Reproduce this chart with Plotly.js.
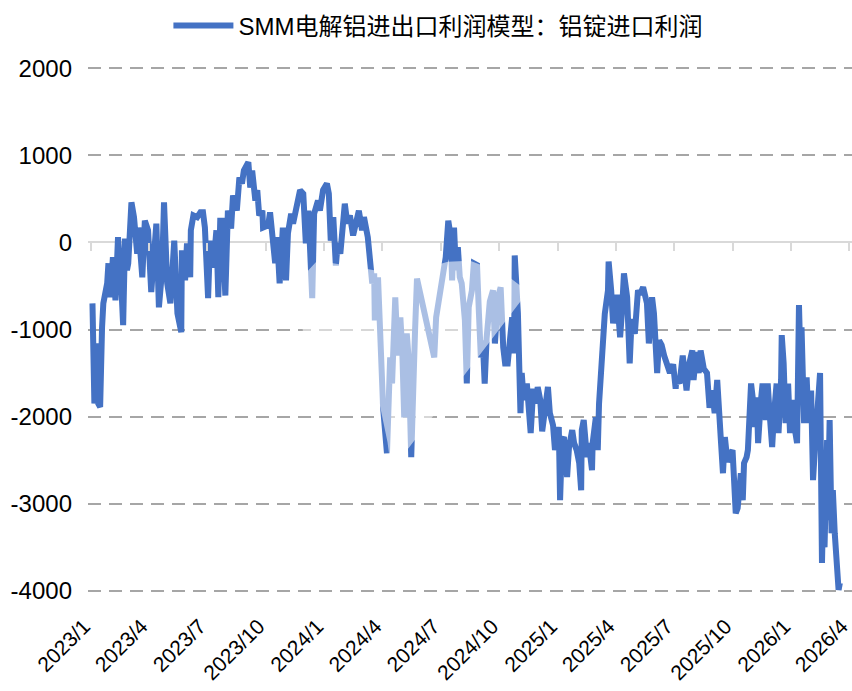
<!DOCTYPE html>
<html>
<head>
<meta charset="utf-8">
<script src="https://cdn.plot.ly/plotly-3.0.1.min.js"></script>
<style>html,body{margin:0;padding:0;background:#fff;}#chart{width:852px;height:691px;}</style>
</head>
<body>
<div id="chart"></div>
<script>
// ---- data ----
var seriesName = "SMM电解铝进出口利润模型：铝锭进口利润";
var dates = [
"2023-01-03","2023-01-04","2023-01-06","2023-01-09","2023-01-10","2023-01-12","2023-01-15","2023-01-18","2023-01-20","2023-01-26","2023-01-28","2023-01-31",
"2023-02-04","2023-02-08","2023-02-11","2023-02-12","2023-02-17","2023-02-20","2023-02-23","2023-02-26","2023-02-28",
"2023-03-05","2023-03-09","2023-03-14","2023-03-16","2023-03-22","2023-03-26","2023-03-31",
"2023-04-05","2023-04-08","2023-04-13","2023-04-17","2023-04-22","2023-04-25","2023-04-30",
"2023-05-05","2023-05-08","2023-05-11","2023-05-16","2023-05-22","2023-05-23","2023-05-28","2023-05-31",
"2023-06-05","2023-06-06","2023-06-10","2023-06-16","2023-06-21","2023-06-25","2023-06-28",
"2023-07-03","2023-07-06","2023-07-11","2023-07-16","2023-07-19","2023-07-22","2023-07-25","2023-07-30",
"2023-08-03","2023-08-08","2023-08-11","2023-08-17","2023-08-21","2023-08-25","2023-08-28",
"2023-09-04","2023-09-07","2023-09-10","2023-09-15","2023-09-18","2023-09-21","2023-09-26","2023-09-27",
"2023-10-05","2023-10-08","2023-10-11","2023-10-16","2023-10-19","2023-10-23","2023-10-28",
"2023-11-02","2023-11-05","2023-11-10","2023-11-13","2023-11-19","2023-11-24","2023-11-29",
"2023-12-03","2023-12-07","2023-12-11","2023-12-13","2023-12-16","2023-12-22","2023-12-25","2023-12-30",
"2024-01-05","2024-01-08","2024-01-11","2024-01-15","2024-01-19","2024-01-22","2024-01-26","2024-01-29",
"2024-02-02","2024-02-06","2024-02-10","2024-02-15","2024-02-21","2024-02-24","2024-02-29",
"2024-03-03","2024-03-09","2024-03-13","2024-03-16","2024-03-19","2024-03-20","2024-03-25","2024-03-30",
"2024-04-02","2024-04-08","2024-04-10","2024-04-13","2024-04-16","2024-04-21","2024-04-25","2024-04-29",
"2024-05-02","2024-05-05","2024-05-09","2024-05-12","2024-05-16","2024-05-19","2024-05-22","2024-05-25","2024-05-30",
"2024-06-02","2024-06-07","2024-06-11","2024-06-17","2024-06-21","2024-06-24","2024-06-28",
"2024-07-02","2024-07-05","2024-07-09","2024-07-13","2024-07-17","2024-07-19","2024-07-22","2024-07-25","2024-07-28","2024-07-31",
"2024-08-03","2024-08-08","2024-08-11","2024-08-14","2024-08-19","2024-08-22","2024-08-27","2024-08-30",
"2024-09-02","2024-09-05","2024-09-08","2024-09-11","2024-09-16","2024-09-21","2024-09-24","2024-09-29",
"2024-10-03","2024-10-07","2024-10-10","2024-10-14","2024-10-18","2024-10-21","2024-10-24","2024-10-25","2024-10-30",
"2024-11-01","2024-11-03","2024-11-05","2024-11-08","2024-11-13","2024-11-16","2024-11-19","2024-11-23","2024-11-27","2024-11-30",
"2024-12-04","2024-12-07","2024-12-11","2024-12-14","2024-12-16","2024-12-19","2024-12-21","2024-12-24","2024-12-27",
"2025-01-02","2025-01-04","2025-01-07","2025-01-10","2025-01-15","2025-01-18","2025-01-23","2025-01-26","2025-01-30",
"2025-02-03","2025-02-06","2025-02-07","2025-02-10","2025-02-15","2025-02-18","2025-02-23","2025-02-24",
"2025-03-01","2025-03-04","2025-03-06","2025-03-11","2025-03-12","2025-03-15","2025-03-20","2025-03-21","2025-03-25","2025-03-28",
"2025-04-03","2025-04-08","2025-04-11","2025-04-14","2025-04-19","2025-04-23","2025-04-26",
"2025-05-01","2025-05-06","2025-05-09","2025-05-14","2025-05-20","2025-05-23","2025-05-28","2025-05-31",
"2025-06-05","2025-06-08","2025-06-12","2025-06-16","2025-06-21","2025-06-25","2025-06-30",
"2025-07-04","2025-07-05","2025-07-10","2025-07-15","2025-07-21","2025-07-25","2025-07-30",
"2025-08-01","2025-08-05","2025-08-09","2025-08-12","2025-08-17","2025-08-22","2025-08-26","2025-08-30",
"2025-09-03","2025-09-07","2025-09-13","2025-09-16","2025-09-19","2025-09-23","2025-09-27",
"2025-10-01","2025-10-06","2025-10-09","2025-10-14","2025-10-17","2025-10-19","2025-10-23","2025-10-25","2025-10-30",
"2025-11-02","2025-11-05","2025-11-08","2025-11-10","2025-11-14","2025-11-17","2025-11-22","2025-11-25","2025-11-28",
"2025-12-02","2025-12-05","2025-12-09","2025-12-12","2025-12-16","2025-12-17","2025-12-20","2025-12-23","2025-12-27","2025-12-30",
"2026-01-02","2026-01-05","2026-01-10","2026-01-13","2026-01-16","2026-01-17","2026-01-21","2026-01-25","2026-01-28",
"2026-02-01","2026-02-04","2026-02-08","2026-02-11","2026-02-15","2026-02-18","2026-02-19","2026-02-22","2026-02-26","2026-02-27",
"2026-03-02","2026-03-05","2026-03-07","2026-03-10","2026-03-13","2026-03-16","2026-03-18"
];
var profit = [
-700,-1750,-1850,-1400,-1160,-1850,-1890,-975,-700,-470,-240,-630,
-170,-665,-290,60,-470,-950,45,-320,-240,
460,290,-130,170,-400,250,140,
-570,-290,215,-745,-320,460,-470,
-700,-355,20,-815,-1030,-90,-435,-10,
-400,140,310,290,345,345,170,
-640,20,-290,140,-630,250,250,-610,
365,160,540,365,745,675,825,
920,630,825,480,600,310,365,170,
195,345,170,-240,60,-470,170,
-435,105,330,215,480,600,560,
-10,365,-290,-640,330,480,365,600,
675,560,20,290,-265,-10,-130,140,
445,215,310,80,290,365,140,
290,60,-170,-470,-355,-895,-400,-1320,
-1900,-2420,-1780,-1320,-1620,-630,-1300,-860,
-1250,-2010,-1045,-1340,-2465,-1390,-1010,-415,-585,
-620,-860,-950,-1205,-1320,-860,-665,
-500,-290,-170,250,60,-435,170,-320,-55,-400,
-470,-895,-1620,-745,-550,-240,-260,-815,
-1320,-1125,-1620,-1100,-680,-550,-1160,-620,
-515,-1205,-1390,-1390,-1125,-860,-1275,-150,-815,
-1730,-1960,-1500,-1810,-1620,-1850,-2190,-1680,-1850,-1660,
-1810,-2170,-1900,-1660,-1660,-1960,-2010,-2100,-2385,
-2120,-2960,-2270,-2235,-2695,-2350,-2155,-2305,-2385,
-2535,-2845,-2155,-2040,-2465,-2305,-2615,-2305,
-2010,-2385,-1850,-1250,-1125,-820,-550,-220,-550,-930,
-600,-1090,-780,-355,-630,-1390,-880,
-1050,-550,-600,-515,-700,-1160,-630,-815,
-1500,-1125,-1180,-1300,-1435,-1500,-1400,
-1680,-1550,-1620,-1300,-1700,-1400,-1240,
-1580,-1260,-1500,-1240,-1450,-1500,-1900,-1700,
-1960,-1580,-2300,-2650,-2235,-2520,-2440,
-2385,-3110,-3050,-2650,-2960,-2535,-2465,-2385,-1620,
-1810,-2120,-1780,-2305,-1850,-1620,-2040,-1620,-1960,
-2350,-1960,-1620,-2190,-1580,-1065,-1390,-2075,-1620,-2190,
-1810,-2075,-2305,-720,-1580,-975,-2075,-1550,-2075,
-1700,-2730,-2235,-1890,-1500,-3680,-3340,-3500,-2270,-3190,
-2040,-3340,-2845,-3340,-3800,-3990,-3910
];
var tickDates = ["2023-01-01","2023-04-01","2023-07-01","2023-10-01","2024-01-01","2024-04-01","2024-07-01","2024-10-01","2025-01-01","2025-04-01","2025-07-01","2025-10-01","2026-01-01","2026-04-01"];
var tickLabels = ["2023/1","2023/4","2023/7","2023/10","2024/1","2024/4","2024/7","2024/10","2025/1","2025/4","2025/7","2025/10","2026/1","2026/4"];
var yTicks = [-4000,-3000,-2000,-1000,0,1000,2000];
var yTickLabels = ["-4000","-3000","-2000","-1000","0","1000","2000"];

var FONT = "Liberation Sans, Arial, Helvetica, Noto Sans CJK SC, sans-serif";
var xRange = ["2022-12-27","2026-04-06"];
var yRange = [-4060, 2060];

var trace = {
  x: dates, y: profit, type: "scatter", mode: "lines", name: seriesName,
  line: {color: "#4472C4", width: 6}
};

var layout = {
  width: 852, height: 691,
  margin: {l: 88, r: 0, t: 63, b: 95, pad: 0},
  paper_bgcolor: "#ffffff", plot_bgcolor: "#ffffff",
  font: {family: FONT, size: 24, color: "#000000"},
  showlegend: true,
  legend: {orientation: "h", x: 0.458, xanchor: "center", y: 1.112, yanchor: "top",
           font: {family: FONT, size: 24, color: "#000000"}, itemwidth: 60, bgcolor: "rgba(0,0,0,0)"},
  xaxis: {
    type: "date", range: xRange, tickmode: "array", tickvals: tickDates, ticktext: tickLabels,
    tickangle: -45, showgrid: false, zeroline: false, showline: false, ticks: "",
    ticklabelstandoff: 13, ticklabelshift: -7, ticklabeloverflow: "allow",
    tickfont: {family: FONT, size: 21, color: "#000000"}, automargin: false, fixedrange: true
  },
  xaxis2: {
    type: "date", range: xRange, overlaying: "x", anchor: "free", position: 0.6634, side: "bottom",
    tickmode: "array", tickvals: tickDates, showticklabels: false, showgrid: false, zeroline: false,
    showline: false, ticks: "outside", ticklen: 8, tickwidth: 2, tickcolor: "#d9d9d9"
  },
  yaxis: {
    range: yRange, tickmode: "array", tickvals: yTicks, ticktext: yTickLabels,
    showgrid: true, gridcolor: "#a6a6a6", gridwidth: 2, griddash: "13px,8px",
    zeroline: true, zerolinecolor: "#d9d9d9", zerolinewidth: 2,
    showline: false, ticks: "", ticklabelstandoff: 15,
    tickfont: {family: FONT, size: 24, color: "#000000"}, automargin: false, fixedrange: true
  },
  shapes: [{
    type: "path", xref: "paper", yref: "paper", layer: "above",
    path: "M0.300,0.629 L0.335,0.621 L0.388,0.608 L0.431,0.600 L0.454,0.620 L0.471,0.627 L0.500,0.629 L0.546,0.604 L0.569,0.579 L0.570,0.560 L0.397,0.235 L0.392,0.289 L0.381,0.365 L0.328,0.413 L0.282,0.489 L0.276,0.556 L0.284,0.604 Z",
    fillcolor: "rgba(255,255,255,0.55)", line: {width: 0}
  }]
};

var axisTrace = {x: xRange, y: [0, 0], xaxis: "x2", yaxis: "y", mode: "lines",
  line: {width: 0, color: "rgba(0,0,0,0)"}, showlegend: false, hoverinfo: "skip"};

Plotly.newPlot("chart", [axisTrace, trace], layout, {staticPlot: true, displayModeBar: false});
</script>
</body>
</html>
